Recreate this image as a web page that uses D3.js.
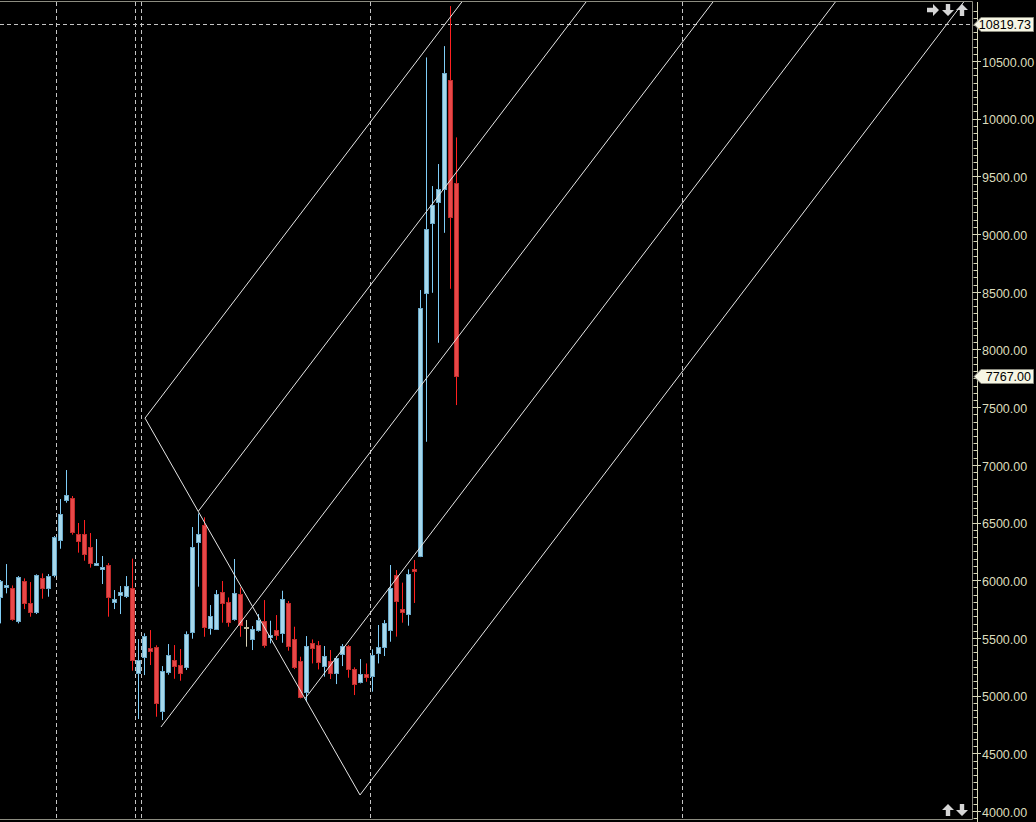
<!DOCTYPE html>
<html><head><meta charset="utf-8">
<script src="https://cdn.jsdelivr.net/npm/d3@7/dist/d3.min.js"></script>
<style>html,body{margin:0;padding:0;background:#000;overflow:hidden}svg{display:block}</style>
</head><body>
<svg id="c" width="1036" height="822"></svg>
<script>
// ---- data ----
const opens  = [5852,5944,5932,5649,5993,5800,5719,6019,5935,6045,6343,6698,6712,6400,6400,6285,6132,6097,6132,5814,5872,5863,5932,5198,5337,5412,5421,4869,5207,5308,5265,5250,5554,6334,6478,5588,5580,5898,5811,5666,5880,5597,5493,5568,5646,5510,5568,5545,5805,5490,5300,5028,5456,5438,5256,5300,5193,5360,5430,5230,5120,5184,5172,5366,5415,5563,6045,5747,5704,6097,6210,8486,9092,9271,9387,10335,9442];
const highs  = [6002,6140,5955,6036,6016,5984,6051,6059,6054,6383,6704,6955,6730,6496,6522,6409,6357,6210,6149,5915,5950,6036,6187,5490,5540,5568,5436,5256,5447,5438,5404,5557,6461,6579,6545,5785,5915,5993,5851,6184,5938,5655,5603,5707,5828,5649,5698,5909,5820,5597,5337,5516,5487,5473,5430,5395,5343,5447,5438,5245,5317,5279,5401,5612,5655,6132,6088,5979,6094,6175,8515,10531,9416,9607,10629,10976,9838];
const lows   = [5626,5886,5649,5626,5750,5684,5707,5840,5857,6025,6273,6672,6395,6239,6169,6109,6123,5967,5684,5750,5707,5846,5216,4797,5178,5265,4817,4788,5181,5146,5129,5222,5493,5944,5510,5528,5580,5632,5597,5649,5510,5424,5395,5554,5415,5453,5482,5458,5389,5230,4976,4947,5279,5227,5164,5144,5100,5256,5155,5005,5106,5120,5034,5279,5343,5467,5511,5632,5606,5803,6200,7200,8491,8058,9011,8526,7518];
const closes = [5993,5958,5664,6028,5805,5719,6042,5935,6036,6371,6571,6738,6421,6343,6230,6146,6149,6114,5857,5837,5898,5950,5308,5308,5516,5389,4936,5213,5352,5259,5198,5534,6288,6400,5597,5690,5880,5799,5640,5889,5612,5597,5577,5655,5441,5525,5528,5837,5432,5245,4985,5430,5415,5294,5343,5193,5323,5430,5227,5103,5187,5158,5352,5418,5626,5929,5823,5719,6051,6083,8359,9040,9248,9387,10392,9144,7767];

const priceTicks = [4000,4500,5000,5500,6000,6500,7000,7500,8000,8500,9000,9500,10000,10500];
const separators = [9.28, 22.45, 23.45, 61.63, 113.63];   // bar positions of the dashed period lines
const markerPrices = [10819.73, 7767.00];                 // price labels on the axis
const hLinePrice = 10819.73;

// channel tool: anchor points [barIndex, price]
const channelAnchors = [[24.12,7405],[33.03,6600],[26.78,4728],[50.8,4975],[59.95,4139]];
const channelSlope = 68.3;    // price units per bar
const diagonal = [[24.12,7405],[59.95,4139]];

// ---- scales ----
const plotRight = 972;
const x = d3.scaleLinear().domain([0, 161]).range([0.3, 966.3]);
const y = d3.scaleLinear().domain([4000, 10500]).range([811, 61]);

const svg = d3.select("#c");
svg.append("rect").attr("width",1036).attr("height",822).attr("fill","#000");

svg.append("defs").append("clipPath").attr("id","plot")
  .append("rect").attr("x",0).attr("y",2).attr("width",plotRight).attr("height",817);

const plot = svg.append("g").attr("clip-path","url(#plot)");

// dashed period separators
plot.selectAll("line.sep").data(separators).join("line")
  .attr("x1",d=>Math.round(x(d))+0.5).attr("x2",d=>Math.round(x(d))+0.5)
  .attr("y1",2).attr("y2",819)
  .attr("stroke","#c4c4c4").attr("stroke-width",1).attr("stroke-dasharray","4,3");

// horizontal dashed line
plot.append("line").attr("x1",0).attr("x2",plotRight)
  .attr("y1",Math.round(y(hLinePrice))+0.5).attr("y2",Math.round(y(hLinePrice))+0.5)
  .attr("stroke","#c4c4c4").attr("stroke-dasharray","4,3");

// candles
const idx = d3.range(opens.length);
const colorOf = i => closes[i] > opens[i] ? "up" : (closes[i] < opens[i] ? "down" : "doji");
const wickCol = {up:"#7fcdf7", down:"#ff2020", doji:"#d8d4b8"};
const bodyFill = {up:"#a6d8ec", down:"#e84848", doji:"#e4e0c4"};
const bodyStroke = {up:"#6aa8c8", down:"#c02c2c", doji:"#bdb89c"};

const g = plot.append("g");
g.selectAll("line.wick").data(idx).join("line")
  .attr("x1",i=>Math.round(x(i))+0.5).attr("x2",i=>Math.round(x(i))+0.5)
  .attr("y1",i=>y(highs[i])).attr("y2",i=>y(lows[i]))
  .attr("stroke",i=>wickCol[colorOf(i)]).attr("stroke-width",1);

g.selectAll("rect.body").data(idx).join("rect")
  .attr("x",i=>Math.round(x(i))-2+0.5)
  .attr("width",4)
  .attr("y",i=>Math.round(y(Math.max(opens[i],closes[i])))+0.5)
  .attr("height",i=>Math.max(1,Math.round(Math.abs(y(opens[i])-y(closes[i])))))
  .attr("fill",i=>bodyFill[colorOf(i)])
  .attr("stroke",i=>bodyStroke[colorOf(i)]).attr("stroke-width",1);

// channel lines
const topPrice = 11100;
plot.selectAll("line.ch").data(channelAnchors).join("line")
  .attr("x1",d=>x(d[0])).attr("y1",d=>y(d[1]))
  .attr("x2",d=>x(d[0] + (topPrice-d[1])/channelSlope)).attr("y2",y(topPrice))
  .attr("stroke","#e6e6e6").attr("stroke-width",1);
plot.append("line")
  .attr("x1",x(diagonal[0][0])).attr("y1",y(diagonal[0][1]))
  .attr("x2",x(diagonal[1][0])).attr("y2",y(diagonal[1][1]))
  .attr("stroke","#e6e6e6").attr("stroke-width",1);

// frame
svg.append("path").attr("d",`M0,1.5H${plotRight+0.5}V819.5H0`)
  .attr("fill","none").attr("stroke","#8c8c80").attr("stroke-width",1);

// price axis
const axisX = 977.5;
const ax = svg.append("g");
ax.append("line").attr("x1",axisX).attr("x2",axisX).attr("y1",2).attr("y2",822)
  .attr("stroke","#d8d8b8");
const minor = d3.range(3875, 11000, 62.5).filter(v=>priceTicks.indexOf(v)<0);
ax.selectAll("line.mn").data(minor).join("line")
  .attr("x1",973.5).attr("x2",axisX)
  .attr("y1",d=>Math.round(y(d))+0.5).attr("y2",d=>Math.round(y(d))+0.5)
  .attr("stroke","#d8d8b8");
ax.selectAll("line.mj").data(priceTicks).join("line")
  .attr("x1",972.5).attr("x2",981)
  .attr("y1",d=>Math.round(y(d))+0.5).attr("y2",d=>Math.round(y(d))+0.5)
  .attr("stroke","#d8d8b8");
ax.selectAll("text.tk").data(priceTicks).join("text")
  .attr("x",982).attr("y",d=>y(d)+2.5)
  .attr("dominant-baseline","middle")
  .attr("font-family","Liberation Sans, Arial, sans-serif").attr("font-size",12.5)
  .attr("fill","#dcdcbc")
  .text(d=>d.toFixed(2));

// price marker labels
const mk = svg.selectAll("g.mk").data(markerPrices).join("g")
  .attr("transform",d=>`translate(0,${Math.round(y(d))})`);
mk.append("path")
  .attr("d","M974,0.5 L981,-6.5 H1033.5 V7.5 H981 Z")
  .attr("fill","#f6f6e4").attr("stroke","#8c8c80").attr("stroke-width",1);
mk.append("text").attr("x",1031).attr("y",1.8)
  .attr("text-anchor","end").attr("dominant-baseline","middle")
  .attr("font-family","Liberation Sans, Arial, sans-serif").attr("font-size",12.5)
  .attr("fill","#000").text(d=>d.toFixed(2));

// navigation arrows (icons)
function arrow(cx, cy, dir){
  const p = "M0,-6 L6,0 L2.2,0 L2.2,6 L-2.2,6 L-2.2,0 L-6,0 Z"; // up arrow
  const rot = {up:0, right:90, down:180}[dir];
  svg.append("path").attr("d",p)
    .attr("transform",`translate(${cx},${cy}) rotate(${rot})`)
    .attr("fill","#d6d6d6");
}
arrow(933,10,"right"); arrow(948,10,"down"); arrow(962,10,"up");
arrow(948,810,"up"); arrow(962,810,"down");
</script>
</body></html>
